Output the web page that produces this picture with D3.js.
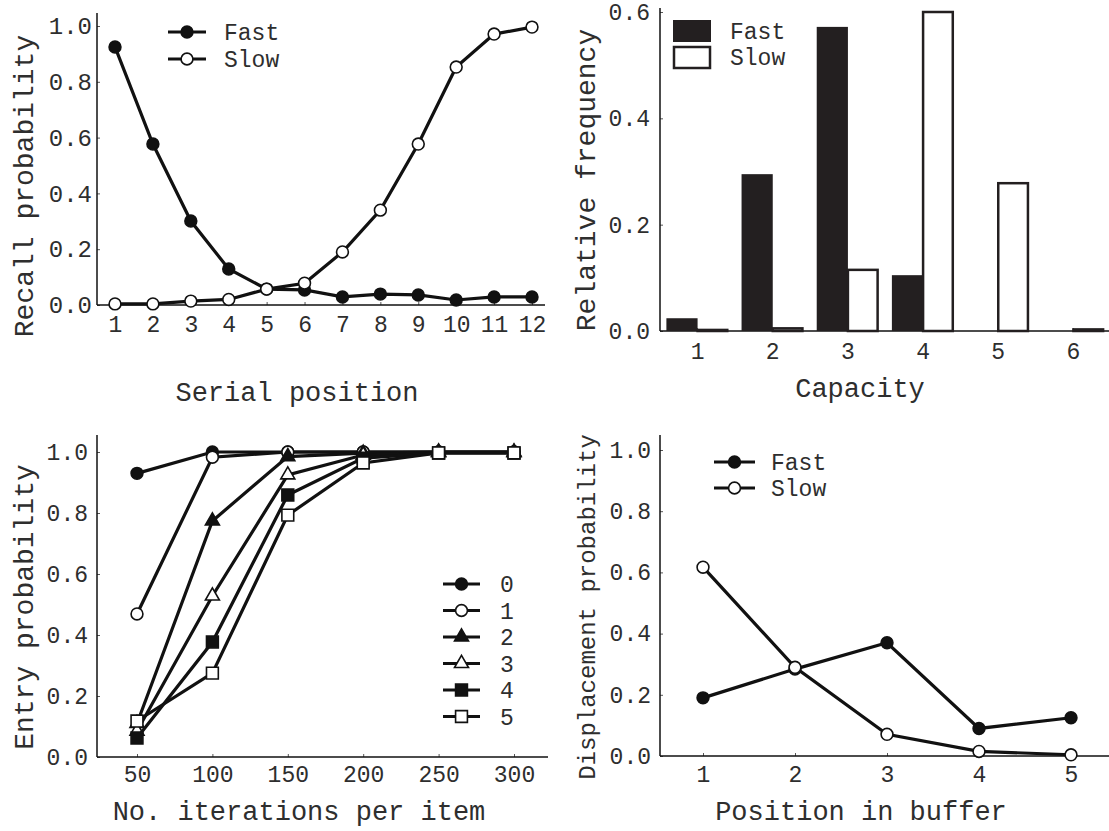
<!DOCTYPE html>
<html>
<head>
<meta charset="utf-8">
<script src="https://cdn.jsdelivr.net/npm/d3@7"></script>
<style>
body { margin: 0; background: #fff; }
text { font-family: "Liberation Mono", "DejaVu Sans Mono", monospace; fill: #2e2e2e; }
</style>
</head>
<body>
<svg></svg>
<script>
// --- top left: serial position curves
var serialPos = [1, 2, 3, 4, 5, 6, 7, 8, 9, 10, 11, 12];
var recallFast = [0.925, 0.577, 0.301, 0.129, 0.057, 0.054, 0.029, 0.039, 0.036, 0.018, 0.029, 0.029];
var recallSlow = [0.004, 0.004, 0.014, 0.02, 0.057, 0.078, 0.19, 0.34, 0.577, 0.853, 0.971, 0.996];

// --- top right: capacity histogram
var capacity = [1, 2, 3, 4, 5, 6];
var freqFast = [0.024, 0.295, 0.572, 0.105, 0.0, 0.0];
var freqSlow = [0.002, 0.005, 0.115, 0.6, 0.278, 0.003];

// --- bottom left: entry probability by buffer position
var iterations = [50, 100, 150, 200, 250, 300];
var entryNames = ["0", "1", "2", "3", "4", "5"];
var entry0 = [0.93, 1.0, 1.0, 1.0, 1.0, 1.0];
var entry1 = [0.469, 0.983, 1.0, 1.0, 1.0, 1.0];
var entry2 = [0.11, 0.774, 0.985, 0.996, 1.0, 1.0];
var entry3 = [0.085, 0.528, 0.925, 0.99, 0.998, 0.998];
var entry4 = [0.062, 0.377, 0.859, 0.98, 0.997, 0.997];
var entry5 = [0.118, 0.275, 0.793, 0.964, 0.997, 0.997];
var entryMarks = ["circle", "circle", "triangle", "triangle", "square", "square"];
var entryFilled = [true, false, true, false, true, false];

// --- bottom right: displacement probability
var bufferPos = [1, 2, 3, 4, 5];
var dispFast = [0.19, 0.284, 0.37, 0.09, 0.125];
var dispSlow = [0.617, 0.29, 0.071, 0.015, 0.004];

var probTicks = [0, 0.2, 0.4, 0.6, 0.8, 1.0];
var freqTicks = [0, 0.2, 0.4, 0.6];

var w = 1109, h = 831;
var ink = "#111";

var svg = d3.select("svg")
    .attr("width", w)
    .attr("height", h);

// axis frame with small inward ticks
function frame(x, y, o) {
    var gx = svg.append("g").attr("transform", "translate(0," + o.y0 + ")");
    var ax = d3.axisBottom(x).tickSize(-3).tickSizeOuter(0).tickPadding(o.xPad);
    if (o.xTicks) ax.tickValues(o.xTicks).tickFormat(d3.format("d"));
    gx.call(ax);
    gx.select(".domain").remove();
    gx.selectAll("text").attr("font-size", 23).style("font-family", null);

    var gy = svg.append("g").attr("transform", "translate(" + o.x0 + ",0)");
    gy.call(d3.axisLeft(y).tickValues(o.yTicks).tickFormat(d3.format(".1f"))
        .tickSize(-3).tickSizeOuter(0).tickPadding(o.yPad));
    gy.select(".domain").remove();
    gy.selectAll("text").attr("font-size", o.yFont || 23).style("font-family", null);

    svg.selectAll(".tick line").attr("stroke", "#555");

    svg.append("line").attr("x1", o.x0).attr("x2", o.x1).attr("y1", o.y0).attr("y2", o.y0)
        .attr("stroke", ink).attr("stroke-width", 1.5);
    svg.append("line").attr("x1", o.x0).attr("x2", o.x0).attr("y1", o.yTop).attr("y2", o.y0)
        .attr("stroke", ink).attr("stroke-width", 1.5);

    svg.append("text").attr("x", o.xtX).attr("y", o.xtY).attr("dy", "0.35em")
        .attr("text-anchor", "middle").attr("font-size", 27).text(o.xTitle);
    svg.append("text").attr("transform", "translate(" + o.ytX + "," + o.ytY + ") rotate(-90)")
        .attr("dy", "0.35em").attr("text-anchor", "middle")
        .attr("font-size", o.ytFont || 28).text(o.yTitle);
}

function marker(g, kind, filled, size) {
    var t = kind == "circle" ? d3.symbolCircle : kind == "square" ? d3.symbolSquare : d3.symbolTriangle;
    return g.append("path")
        .attr("d", d3.symbol().type(t).size(size))
        .attr("fill", filled ? ink : "#fff")
        .attr("stroke", ink)
        .attr("stroke-width", 1.6);
}

function series(x, y, xs, ys, kind, filled, size) {
    var pts = xs.map(function (d, i) { return [d, ys[i]]; });
    svg.append("path").datum(pts)
        .attr("fill", "none").attr("stroke", ink).attr("stroke-width", 3.2)
        .attr("d", d3.line().x(function (d) { return x(d[0]); }).y(function (d) { return y(d[1]); }));
    pts.forEach(function (d) {
        marker(svg, kind, filled, size).attr("transform", "translate(" + x(d[0]) + "," + y(d[1]) + ")");
    });
}

function legendRow(lx0, lx1, ly, tx, label, kind, filled, size) {
    svg.append("line").attr("x1", lx0).attr("x2", lx1).attr("y1", ly).attr("y2", ly)
        .attr("stroke", ink).attr("stroke-width", 3.2);
    marker(svg, kind, filled, size).attr("transform", "translate(" + ((lx0 + lx1) / 2) + "," + ly + ")");
    svg.append("text").attr("x", tx).attr("y", ly).attr("dy", "0.35em")
        .attr("font-size", 23).text(label);
}

// ---------- panel 1
var x1 = d3.scaleLinear().domain([1, 12]).range([115, 532]);
var y1 = d3.scaleLinear().domain([0, 1]).range([305, 26]);
frame(x1, y1, {
    x0: 97, x1: 545, y0: 305, yTop: 13, xTicks: serialPos, yTicks: probTicks,
    xPad: 11, yPad: 5, yFont: 24,
    xTitle: "Serial position", xtX: 297, xtY: 392,
    yTitle: "Recall probability", ytX: 23, ytY: 186
});
series(x1, y1, serialPos, recallFast, "circle", true, 110);
series(x1, y1, serialPos, recallSlow, "circle", false, 110);
legendRow(168, 206, 32, 224, "Fast", "circle", true, 110);
legendRow(168, 206, 59, 224, "Slow", "circle", false, 110);

// ---------- panel 2
var x2 = d3.scaleBand().domain(capacity).range([660, 1111]).paddingInner(0.17).paddingOuter(0.085);
var y2 = d3.scaleLinear().domain([0, 0.6]).range([331, 12]);
frame(x2, y2, {
    x0: 660, x1: 1109, y0: 331, yTop: 8, yTicks: freqTicks,
    xPad: 12, yPad: 10,
    xTitle: "Capacity", xtX: 860, xtY: 388,
    yTitle: "Relative frequency", ytX: 585, ytY: 180
});
var half = x2.bandwidth() / 2;
svg.selectAll(".barFast").data(capacity).enter().append("rect")
    .attr("x", function (d) { return x2(d); })
    .attr("y", function (d, i) { return y2(freqFast[i]); })
    .attr("width", half)
    .attr("height", function (d, i) { return y2(0) - y2(freqFast[i]); })
    .attr("fill", "#231f20");
svg.selectAll(".barSlow").data(capacity).enter().append("rect")
    .attr("x", function (d) { return x2(d) + half; })
    .attr("y", function (d, i) { return y2(freqSlow[i]); })
    .attr("width", half - 1.5)
    .attr("height", function (d, i) { return y2(0) - y2(freqSlow[i]); })
    .attr("fill", "#fff").attr("stroke", "#231f20").attr("stroke-width", 2.5);
svg.append("rect").attr("x", 673).attr("y", 20).attr("width", 38).attr("height", 22).attr("fill", "#231f20");
svg.append("rect").attr("x", 674).attr("y", 47).attr("width", 36).attr("height", 21)
    .attr("fill", "#fff").attr("stroke", "#231f20").attr("stroke-width", 2.5);
svg.append("text").attr("x", 730).attr("y", 31).attr("dy", "0.35em").attr("font-size", 23).text("Fast");
svg.append("text").attr("x", 730).attr("y", 57).attr("dy", "0.35em").attr("font-size", 23).text("Slow");

// ---------- panel 3
var x3 = d3.scaleLinear().domain([50, 300]).range([137, 514]);
var y3 = d3.scaleLinear().domain([0, 1]).range([757, 452]);
frame(x3, y3, {
    x0: 97, x1: 548, y0: 757, yTop: 435, xTicks: iterations, yTicks: probTicks,
    xPad: 9, yPad: 9,
    xTitle: "No. iterations per item", xtX: 299, xtY: 811,
    yTitle: "Entry probability", ytX: 23, ytY: 607
});
var entries = [entry0, entry1, entry2, entry3, entry4, entry5];
var markSize = { circle: 110, triangle: 85, square: 140 };
entries.forEach(function (ys, i) {
    series(x3, y3, iterations, ys, entryMarks[i], entryFilled[i], markSize[entryMarks[i]]);
});
entryNames.forEach(function (name, i) {
    legendRow(443, 480, 584 + i * 26.5, 500, name, entryMarks[i], entryFilled[i], markSize[entryMarks[i]]);
});

// ---------- panel 4
var x4 = d3.scaleLinear().domain([1, 5]).range([703, 1071]);
var y4 = d3.scaleLinear().domain([0, 1]).range([756, 450]);
frame(x4, y4, {
    x0: 660, x1: 1109, y0: 756, yTop: 435, xTicks: bufferPos, yTicks: probTicks,
    xPad: 10, yPad: 9,
    xTitle: "Position in buffer", xtX: 861, xtY: 811,
    yTitle: "Displacement probability", ytX: 587, ytY: 607, ytFont: 24
});
series(x4, y4, bufferPos, dispFast, "circle", true, 110);
series(x4, y4, bufferPos, dispSlow, "circle", false, 110);
legendRow(714, 755, 462, 771, "Fast", "circle", true, 110);
legendRow(714, 755, 488, 771, "Slow", "circle", false, 110);
</script>
</body>
</html>
